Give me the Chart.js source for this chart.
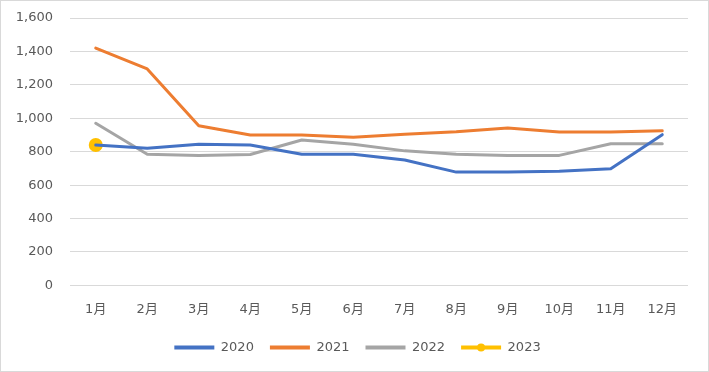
<!DOCTYPE html>
<html>
<head>
<meta charset="utf-8">
<script src="https://cdn.jsdelivr.net/npm/chart.js@4"></script>
<style>
  html, body { margin: 0; padding: 0; background: #fff; }
  #wrap { width: 709px; height: 372px; box-sizing: border-box; border: 1px solid #d9d9d9; }
  canvas { display: block; }
</style>
</head>
<body>
<div id="wrap"><canvas id="chart" width="707" height="370"></canvas></div>
<script>
// months on the x axis
const months = ['1月', '2月', '3月', '4月', '5月', '6月', '7月', '8月', '9月', '10月', '11月', '12月'];

// yearly series
const y2020 = [840, 820, 845, 840, 785, 785, 750, 678, 678, 683, 698, 902];
const y2021 = [1420, 1295, 955, 900, 900, 887, 905, 920, 942, 918, 918, 925];
const y2022 = [970, 785, 777, 783, 870, 845, 805, 785, 778, 778, 848, 848];
const y2023 = [840, null, null, null, null, null, null, null, null, null, null, null];

const yTicks = [0, 200, 400, 600, 800, 1000, 1200, 1400, 1600];

const textColor = '#595959';
const fontFamily = '"DejaVu Sans", "Noto Sans CJK SC", sans-serif';

// nudge the legend, then put the marker dot on the 2023 legend line
// (hit boxes get refreshed while the legend draws)
const legendTweak = {
    id: 'legendTweak',
    afterLayout(chart) {
        const legend = chart.legend;
        legend.left += 13;
        legend.right += 13;
        legend.top -= 1;
        legend.bottom -= 1;
    },
    afterDraw(chart) {
        const box = chart.legend.legendHitBoxes[3];
        const ctx = chart.ctx;
        ctx.save();
        ctx.fillStyle = '#FFC000';
        ctx.beginPath();
        ctx.arc(box.left + 20, box.top + box.height / 2, 4, 0, Math.PI * 2);
        ctx.fill();
        ctx.restore();
    }
};

const ctx = document.getElementById('chart').getContext('2d');
new Chart(ctx, {
    type: 'line',
    data: {
        labels: months,
        datasets: [
            { label: '2020', data: y2020, borderColor: '#4472C4', backgroundColor: '#4472C4' },
            { label: '2021', data: y2021, borderColor: '#ED7D31', backgroundColor: '#ED7D31' },
            { label: '2022', data: y2022, borderColor: '#A5A5A5', backgroundColor: '#A5A5A5' },
            { label: '2023', data: y2023, borderColor: '#FFC000', backgroundColor: '#FFC000',
              pointRadius: 7, pointHoverRadius: 7, pointBorderWidth: 0 }
        ]
    },
    options: {
        responsive: false,
        animation: false,
        devicePixelRatio: 1,
        layout: { padding: { top: 17, right: 20, left: 0, bottom: 6 } },
        elements: {
            line: { borderWidth: 3, tension: 0, borderCapStyle: 'round', borderJoinStyle: 'round' },
            point: { radius: 0 }
        },
        scales: {
            x: {
                offset: true,
                grid: { display: false },
                border: { display: false },
                afterFit: axis => { axis.height += 1; },
                ticks: { color: textColor, font: { family: fontFamily, size: 13 }, padding: 8, maxRotation: 0 }
            },
            y: {
                min: 0,
                max: 1600,
                afterBuildTicks: axis => { axis.ticks = yTicks.map(v => ({ value: v })); },
                afterFit: axis => { axis.width = 69; axis.paddingTop = 0; axis.paddingBottom = 0; },
                grid: { color: '#d9d9d9', lineWidth: 1, drawTicks: false },
                border: { display: false },
                ticks: {
                    color: textColor,
                    font: { family: fontFamily, size: 13 },
                    padding: 17,
                    callback: v => v.toLocaleString('en-US')
                }
            }
        },
        plugins: {
            tooltip: { enabled: false },
            legend: {
                position: 'bottom',
                labels: {
                    color: textColor,
                    font: { family: fontFamily, size: 13 },
                    boxWidth: 40,
                    boxHeight: 4,
                    padding: 16,
                    generateLabels: chart => Chart.defaults.plugins.legend.labels.generateLabels(chart)
                        .map(item => Object.assign(item, { lineWidth: 0 }))
                }
            }
        }
    },
    plugins: [legendTweak]
});
</script>
</body>
</html>
